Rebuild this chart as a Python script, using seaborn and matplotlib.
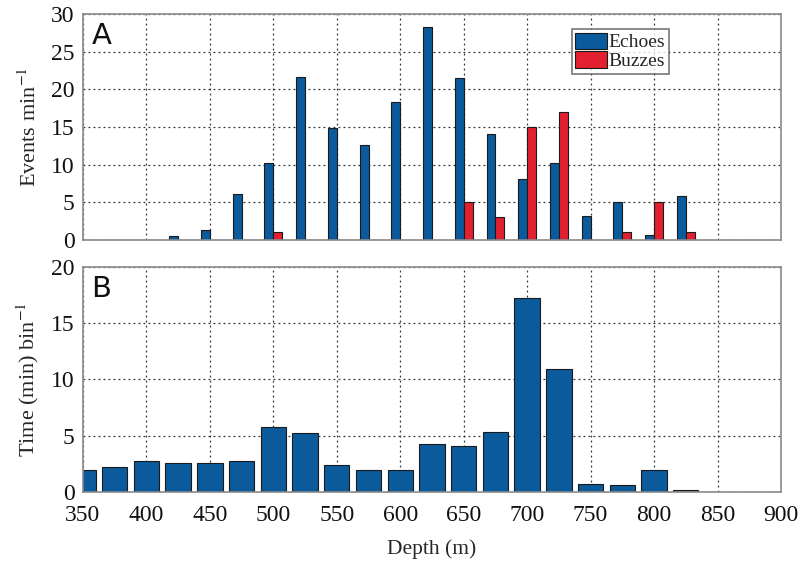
import numpy as np
import pandas as pd
import matplotlib
matplotlib.use("Agg")
import matplotlib.pyplot as plt
import seaborn as sns

# --- DATA ---
depth_bins = [350, 375, 400, 425, 450, 475, 500, 525, 550, 575, 600, 625,
              650, 675, 700, 725, 750, 775, 800, 825]
echoes = [0, 0, 0, 0.5, 1.3, 6.1, 10.2, 21.6, 14.9, 12.6, 18.3, 28.3,
          21.5, 14.1, 8.1, 10.2, 3.2, 5.0, 0.7, 5.9]
buzzes = [0, 0, 0, 0, 0, 0, 1.0, 0, 0, 0, 0, 0,
          5.0, 3.0, 15.0, 17.0, 0, 1.0, 5.0, 1.0]
time_in_bin = [2.0, 2.2, 2.8, 2.6, 2.6, 2.75, 5.8, 5.2, 2.4, 2.0, 1.95, 4.3,
               4.05, 5.35, 17.2, 10.9, 0.7, 0.6, 1.95, 0.15]

BLUE = "#0b5a9c"
RED = "#e3202f"

# --- STYLE ---
sns.set_style("white")
plt.rcParams["font.family"] = ["Liberation Serif", "DejaVu Serif"]
plt.rcParams["mathtext.fontset"] = "stix"

df_events = pd.DataFrame({
    "depth": depth_bins * 2,
    "rate": echoes + buzzes,
    "kind": ["Echoes"] * len(depth_bins) + ["Buzzes"] * len(depth_bins),
})
df_time = pd.DataFrame({"depth": depth_bins, "minutes": time_in_bin})

fig = plt.figure(figsize=(8.12, 5.63), dpi=100)
ax_a = fig.add_axes([0.1022, 0.5737, 0.8596, 0.4014])
ax_b = fig.add_axes([0.1022, 0.1261, 0.8596, 0.3997])

# Panel A: event rates
sns.barplot(data=df_events, x="depth", y="rate", hue="kind", native_scale=True,
            width=0.56, palette={"Echoes": BLUE, "Buzzes": RED}, saturation=1,
            edgecolor="#1a1a1a", linewidth=0.8, errorbar=None, ax=ax_a)

# Panel B: time spent per depth bin
sns.barplot(data=df_time, x="depth", y="minutes", native_scale=True,
            width=0.8, color=BLUE, saturation=1,
            edgecolor="#1a1a1a", linewidth=0.8, errorbar=None, ax=ax_b)

for ax, ymax in [(ax_a, 30), (ax_b, 20)]:
    ax.set_xlim(350, 900)
    ax.set_ylim(0, ymax)
    ax.set_yticks(np.arange(0, ymax + 1, 5))
    ax.set_xticks(np.arange(350, 901, 50))
    ax.grid(True, linestyle=(0, (1.5, 2.5)), color="#333333", linewidth=0.9)
    ax.set_axisbelow(True)
    ax.tick_params(axis="both", labelsize=17, length=0, labelcolor="#111111")
    ax.tick_params(axis="y", pad=6)
    ax.tick_params(axis="x", pad=9)
    for s in ax.spines.values():
        s.set_color("#8a8a8a")
        s.set_linewidth(1.2)

ax_a.set_xticklabels([])
ax_a.set_xlabel("")
ax_b.set_xticklabels([str(v) for v in range(350, 901, 50)])

ax_a.set_ylabel("Events min$^{-1}$", fontsize=16, labelpad=7)
ax_b.set_ylabel("Time (min) bin$^{-1}$", fontsize=16, labelpad=7)
ax_b.set_xlabel("Depth (m)", fontsize=15.5, labelpad=10)

ax_a.text(0.012, 0.965, "A", transform=ax_a.transAxes, va="top", ha="left",
          fontsize=21, family="DejaVu Sans", color="#111111")
ax_b.text(0.012, 0.965, "B", transform=ax_b.transAxes, va="top", ha="left",
          fontsize=21, family="DejaVu Sans", color="#111111")

leg = ax_a.legend(loc="upper left", bbox_to_anchor=(0.70, 0.935), fontsize=14,
                  fancybox=False, frameon=True, handlelength=1.6, handleheight=0.9,
                  handletextpad=0.1, borderpad=0.2, labelspacing=0.0,
                  borderaxespad=0)
leg.get_frame().set_edgecolor("#555555")
leg.get_frame().set_linewidth(1.2)
leg.set_title(None)

fig.savefig("out.png", dpi=100)
